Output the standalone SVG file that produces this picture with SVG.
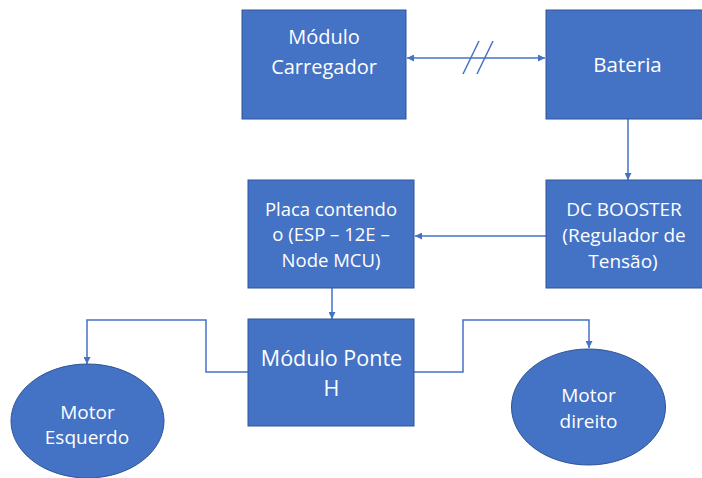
<svg xmlns="http://www.w3.org/2000/svg" width="702" height="478" viewBox="0 0 702 478">
<style>
.box{fill:#4472C4;stroke:#2F5597;stroke-width:1}
.t{fill:#ffffff;font-family:"Open Sans","Liberation Sans",sans-serif;text-anchor:middle}
.c{fill:none;stroke:#4472C4;stroke-width:1.5}
</style>
<defs>
<marker id="ah" viewBox="0 0 10 10" refX="10" refY="5" markerWidth="7" markerHeight="7" markerUnits="userSpaceOnUse" orient="auto-start-reverse">
<path d="M0,0 L10,5 L0,10 z" fill="#4472C4"/>
</marker>
</defs>
<rect width="702" height="478" fill="#ffffff"/>
<g id="connectors">
<line class="c" x1="407" y1="58" x2="545" y2="58" marker-start="url(#ah)" marker-end="url(#ah)"/>
<line class="c" x1="479" y1="41" x2="463" y2="74"/>
<line class="c" x1="493" y1="41" x2="477" y2="74"/>
<line class="c" x1="628" y1="119" x2="628" y2="180" marker-end="url(#ah)"/>
<line class="c" x1="546" y1="236" x2="415" y2="236" marker-end="url(#ah)"/>
<line class="c" x1="332" y1="288" x2="332" y2="319" marker-end="url(#ah)"/>
<polyline class="c" points="248,372 206,372 206,320 87,320 87,364" marker-end="url(#ah)"/>
<polyline class="c" points="414,372 463,372 463,320 589,320 589,348" marker-end="url(#ah)"/>
</g>
<g id="carregador">
<rect class="box" x="242" y="10" width="164" height="109"/>
<text class="t" font-size="20" x="324" y="44">Módulo</text>
<text class="t" font-size="20" x="324" y="74">Carregador</text>
</g>
<g id="bateria">
<rect class="box" x="546" y="10" width="160" height="109"/>
<text class="t" font-size="20.5" x="627.5" y="72">Bateria</text>
</g>
<g id="booster">
<rect class="box" x="546" y="180" width="160" height="108"/>
<text class="t" font-size="19" x="624" y="216">DC BOOSTER</text>
<text class="t" font-size="19" x="624" y="242">(Regulador de</text>
<text class="t" font-size="19" x="623" y="268">Tensão)</text>
</g>
<g id="placa">
<rect class="box" x="248" y="180" width="166" height="108"/>
<text class="t" font-size="18.5" x="331" y="216">Placa contendo</text>
<text class="t" font-size="18.5" x="331" y="241">o (ESP – 12E –</text>
<text class="t" font-size="18.5" x="331" y="267">Node MCU)</text>
</g>
<g id="ponte">
<rect class="box" x="248" y="319" width="166" height="107"/>
<text class="t" font-size="21.5" x="331.5" y="366">Módulo Ponte</text>
<text class="t" font-size="21.5" x="331.5" y="396">H</text>
</g>
<g id="motor-esquerdo">
<ellipse class="box" cx="87.5" cy="421" rx="76.5" ry="57"/>
<text class="t" font-size="19" x="87.5" y="419">Motor</text>
<text class="t" font-size="19" x="87" y="444">Esquerdo</text>
</g>
<g id="motor-direito">
<ellipse class="box" cx="588.5" cy="407" rx="77" ry="58"/>
<text class="t" font-size="19" x="588.5" y="402">Motor</text>
<text class="t" font-size="19" x="588.5" y="428">direito</text>
</g>
</svg>
